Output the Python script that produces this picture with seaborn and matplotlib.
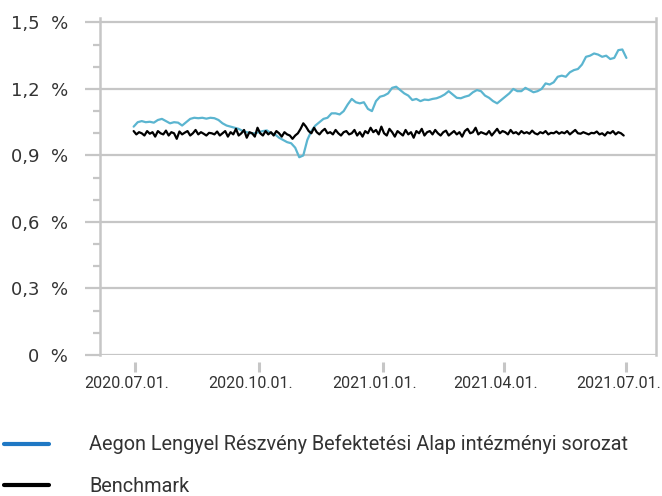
import numpy as np
import pandas as pd
import matplotlib
matplotlib.use("Agg")
import matplotlib.pyplot as plt
import matplotlib.dates as mdates
import matplotlib.transforms as mtransforms
from matplotlib.ticker import FixedLocator, FuncFormatter, MultipleLocator
from matplotlib.lines import Line2D
import seaborn as sns

# ---------------- data ----------------
fund_name = "Aegon Lengyel Részvény Befektetési Alap intézményi sorozat"
bench_name = "Benchmark"

fund_start = "2020-06-30"
fund_step_days = 3
fund_values = [
    1.03, 1.05, 1.055, 1.05, 1.052, 1.048, 1.06, 1.065, 1.055, 1.045,
    1.05, 1.048, 1.035, 1.05, 1.065, 1.07, 1.068, 1.07, 1.066, 1.07,
    1.068, 1.06, 1.045, 1.035, 1.03, 1.025, 1.02, 1.01, 1.005, 1.0,
    1.0, 1.005, 1.01, 1.013, 1.0, 0.995, 0.98, 0.97, 0.96, 0.955,
    0.935, 0.892, 0.9, 0.97, 1.01, 1.035, 1.05, 1.065, 1.07, 1.09,
    1.09, 1.085, 1.1, 1.13, 1.155, 1.14, 1.135, 1.14, 1.11, 1.1,
    1.145, 1.165, 1.17, 1.18, 1.205, 1.21, 1.195, 1.18, 1.17, 1.15,
    1.155, 1.145, 1.152, 1.15, 1.155, 1.158, 1.165, 1.175, 1.19, 1.175,
    1.16, 1.158, 1.165, 1.17, 1.185, 1.195, 1.19, 1.17, 1.16, 1.145,
    1.135, 1.15, 1.165, 1.18, 1.2, 1.19, 1.19, 1.205, 1.195, 1.185,
    1.19, 1.2, 1.225, 1.22, 1.23, 1.255, 1.26, 1.255, 1.275, 1.285,
    1.29, 1.31, 1.345, 1.35, 1.36, 1.355, 1.345, 1.35, 1.335, 1.34,
    1.375, 1.378, 1.34,
]

bench_start = "2020-06-30"
bench_step_days = 2
bench_values = [
    1.01, 0.995, 1.005, 1.0, 0.99, 1.01, 0.998, 1.005, 0.985, 1.01,
    1.0, 0.995, 1.012, 0.99, 1.005, 1.0, 0.975, 1.008, 0.995, 1.003,
    1.01, 0.99, 1.0, 1.015, 0.995, 1.005, 0.998, 0.99, 1.002, 1.0,
    0.995, 1.008, 0.99, 1.0, 1.01, 0.985, 1.005, 0.995, 1.02, 0.99,
    1.0, 1.015, 0.98, 1.005, 1.0, 0.985, 1.025, 1.0, 0.99, 1.01,
    0.995, 1.005, 0.99, 1.01, 1.0, 0.985, 1.005, 0.995, 0.99, 0.975,
    0.99, 1.0, 1.02, 1.045, 1.03, 1.01, 1.0, 1.025, 1.005, 0.995,
    1.01, 1.02, 1.0, 1.005, 0.995, 1.015, 1.0, 0.99, 1.005, 1.01,
    0.995, 1.0, 1.015, 0.99, 1.005, 0.985, 1.01, 1.0, 1.025, 1.005,
    1.015, 0.995, 1.03, 1.0, 0.99, 1.02, 1.005, 0.985, 1.01, 1.0,
    0.99, 1.015, 0.995, 1.005, 0.98, 1.01, 1.0, 1.02, 0.99, 1.005,
    1.01, 0.995, 1.015, 1.0, 0.99, 1.005, 1.012, 0.99, 1.0, 1.01,
    0.995, 1.005, 0.985, 1.01, 1.02, 1.0, 1.005, 1.025, 0.995, 1.005,
    1.0, 0.995, 1.01, 0.99, 1.005, 1.02, 1.0, 1.01, 1.005, 0.995,
    1.015, 1.0, 1.005, 0.995, 1.01, 1.0, 1.005, 0.998, 1.012, 1.0,
    0.995, 1.005, 1.0, 1.01, 0.995, 1.002, 1.0, 1.008, 0.998, 1.005,
    1.0, 1.01, 0.995, 1.005, 1.015, 1.0, 0.998, 1.005, 1.0, 0.995,
    1.002, 1.0, 1.008, 0.995, 1.0, 0.99, 1.005, 1.0, 1.01, 0.995,
    1.005, 1.0, 0.99,
]

x_tick_dates = ["2020-07-01", "2020-10-01", "2021-01-01", "2021-04-01", "2021-07-01"]
y_ticks = [0.0, 0.3, 0.6, 0.9, 1.2, 1.5]

# ---------------- frames ----------------
fund_df = pd.DataFrame({
    "date": pd.date_range(fund_start, periods=len(fund_values), freq=f"{fund_step_days}D"),
    "value": fund_values,
})
bench_df = pd.DataFrame({
    "date": pd.date_range(bench_start, periods=len(bench_values), freq=f"{bench_step_days}D"),
    "value": bench_values,
})

# ---------------- style ----------------
sns.set_style("white")
plt.rcParams["font.family"] = ["DejaVu Sans"]
narrow = "Roboto"

grid_col = "#c6c6c6"
fund_col = "#5bb5d0"
fund_legend_col = "#1f78c4"
text_col = "#333333"

fig = plt.figure(figsize=(6.62, 4.96), dpi=100)
ax = fig.add_axes([100 / 662, 1 - 355 / 496, 556 / 662, 337 / 496])

sns.lineplot(data=fund_df, x="date", y="value", ax=ax, color=fund_col, lw=1.6)
sns.lineplot(data=bench_df, x="date", y="value", ax=ax, color="black", lw=1.6)

ax.set_ylim(0, 1.52)
ax.set_xlim(pd.Timestamp("2020-06-05"), pd.Timestamp("2021-07-23"))
ax.set_xlabel("")
ax.set_ylabel("")

# gridlines
for v in y_ticks:
    ax.axhline(v, color=grid_col, lw=1.6, zorder=0.5)

# spines
ax.spines["top"].set_visible(False)
for s in ["left", "right"]:
    ax.spines[s].set_color(grid_col)
    ax.spines[s].set_linewidth(1.8)
ax.spines["bottom"].set_color("none")
ax.spines["bottom"].set_position(("outward", 5))


def ylab(v, p):
    if abs(v) < 1e-9:
        return "0  %"
    return f"{v:.1f}".replace(".", ",") + "  %"


# y ticks
ax.yaxis.set_major_locator(FixedLocator(y_ticks))
ax.yaxis.set_minor_locator(MultipleLocator(0.1))
ax.yaxis.set_major_formatter(FuncFormatter(ylab))
ax.tick_params(axis="y", which="major", length=11, width=1.6, color=grid_col,
               labelsize=13, labelcolor=text_col, pad=12, left=True)
ax.tick_params(axis="y", which="minor", length=5, width=1.6, color=grid_col, left=True)

# x ticks
ax.xaxis.set_major_locator(FixedLocator(mdates.date2num(pd.to_datetime(x_tick_dates))))
ax.xaxis.set_major_formatter(mdates.DateFormatter("%Y.%m.%d."))
ax.tick_params(axis="x", which="major", length=7, width=2.2, color=grid_col,
               labelsize=11.5, labelcolor=text_col, pad=3, bottom=True)
shift = mtransforms.ScaledTranslation(-8 / 100, 0, fig.dpi_scale_trans)
for lbl in ax.get_xticklabels():
    lbl.set_fontfamily(narrow)
    lbl.set_transform(lbl.get_transform() + shift)

# legend
handles = [Line2D([], [], color=fund_legend_col, lw=3),
           Line2D([], [], color="black", lw=3)]
fig.legend(handles, [fund_name, bench_name], loc="upper left",
           bbox_to_anchor=(0.0, 1 - 431 / 496), frameon=False,
           prop={"family": narrow, "size": 14.3}, handlelength=2.28,
           handletextpad=2.02, labelspacing=1.15, borderaxespad=0,
           borderpad=0.2, labelcolor=text_col)

fig.savefig("out.png", dpi=100)
